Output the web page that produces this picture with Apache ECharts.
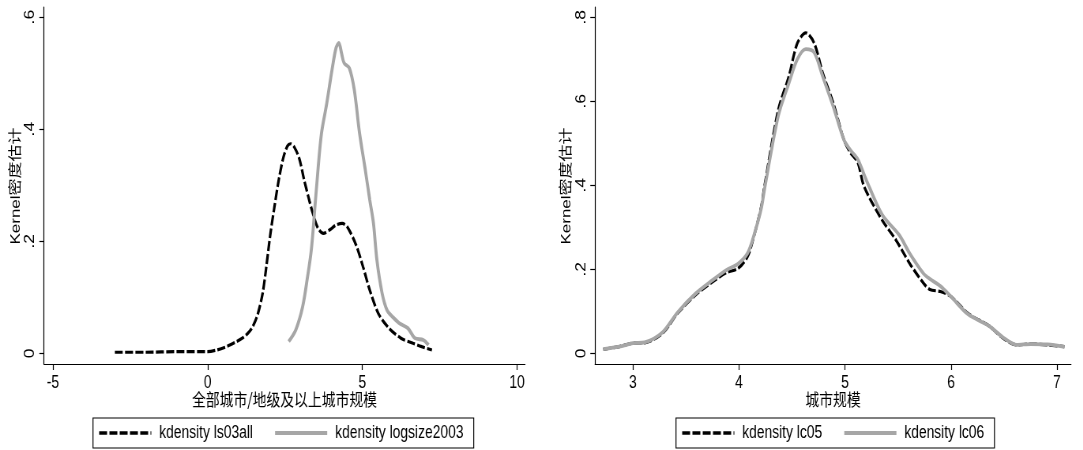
<!DOCTYPE html>
<html>
<head>
<meta charset="utf-8">
<script src="https://cdn.jsdelivr.net/npm/echarts@6/dist/echarts.min.js"></script>
<style>
html,body{margin:0;padding:0;background:#fff;overflow:hidden;}
#wrap{width:1083px;height:450px;overflow:hidden;}
#chart{width:1371px;height:450px;transform:scaleX(0.79);transform-origin:0 0;}
</style>
</head>
<body>
<div id="wrap"><div id="chart"></div></div>
<script>
// ---- data (x, density) ----
const ls03all = [[-3.0,0.002],[-2.0,0.002],[-1.0,0.003],[0.0,0.003],[0.3,0.006],[0.61,0.012],[0.9,0.02],[1.12,0.027],[1.3,0.036],[1.45,0.047],[1.62,0.07],[1.78,0.108],[1.89,0.152],[2.02,0.21],[2.16,0.262],[2.3,0.31],[2.45,0.35],[2.58,0.37],[2.68,0.374],[2.8,0.368],[2.96,0.348],[3.12,0.309],[3.29,0.272],[3.4,0.25],[3.56,0.224],[3.74,0.214],[3.96,0.221],[4.15,0.229],[4.35,0.232],[4.52,0.225],[4.8,0.193],[5.02,0.155],[5.24,0.113],[5.52,0.071],[5.86,0.045],[6.25,0.027],[6.64,0.018],[6.92,0.012],[7.25,0.006]];
const logsize2003 = [[2.62,0.021],[2.85,0.042],[3.07,0.083],[3.23,0.137],[3.35,0.184],[3.46,0.256],[3.57,0.33],[3.68,0.393],[3.85,0.446],[4.02,0.506],[4.15,0.545],[4.24,0.554],[4.33,0.535],[4.41,0.518],[4.58,0.509],[4.74,0.47],[4.91,0.393],[5.08,0.333],[5.24,0.274],[5.36,0.232],[5.47,0.167],[5.64,0.107],[5.8,0.077],[6.0,0.064],[6.19,0.054],[6.47,0.045],[6.7,0.027],[6.97,0.024],[7.14,0.015]];
const lc05 = [[2.72,0.0095],[2.87,0.016],[3.0,0.024],[3.11,0.025],[3.28,0.048],[3.42,0.095],[3.59,0.139],[3.75,0.17],[3.88,0.192],[3.99,0.202],[4.08,0.23],[4.14,0.278],[4.21,0.349],[4.24,0.397],[4.37,0.579],[4.47,0.659],[4.55,0.738],[4.63,0.763],[4.71,0.738],[4.79,0.667],[4.89,0.595],[4.99,0.508],[5.05,0.478],[5.12,0.455],[5.18,0.397],[5.35,0.317],[5.48,0.27],[5.61,0.214],[5.74,0.167],[5.8,0.152],[5.9,0.147],[6.0,0.135],[6.16,0.095],[6.36,0.065],[6.49,0.036],[6.62,0.02],[6.75,0.022],[6.91,0.02],[7.07,0.016]];
const lc06 = [[2.72,0.01],[2.87,0.016],[3.0,0.024],[3.11,0.026],[3.28,0.05],[3.42,0.097],[3.59,0.142],[3.75,0.174],[3.88,0.198],[3.99,0.213],[4.08,0.238],[4.14,0.28],[4.21,0.345],[4.24,0.39],[4.37,0.565],[4.47,0.643],[4.55,0.7],[4.63,0.724],[4.71,0.716],[4.79,0.659],[4.89,0.587],[4.99,0.508],[5.05,0.484],[5.12,0.462],[5.2,0.413],[5.35,0.33],[5.51,0.282],[5.61,0.238],[5.74,0.19],[5.8,0.177],[5.9,0.16],[6.0,0.135],[6.16,0.093],[6.36,0.065],[6.49,0.038],[6.62,0.02],[6.75,0.022],[6.91,0.021],[7.07,0.015]];

const xTicksLeft = [-5, 0, 5, 10];
const yTicksLeft = [0, 0.2, 0.4, 0.6];
const xTicksRight = [3, 4, 5, 6, 7];
const yTicksRight = [0, 0.2, 0.4, 0.6, 0.8];
const names = ['kdensity ls03all', 'kdensity logsize2003', 'kdensity lc05', 'kdensity lc06'];
const xTitleLeft = '全部城市/地级及以上城市规模';
const xTitleRight = '城市规模';
const yTitle = 'Kernel密度估计';

const REG = '"Liberation Sans", Arial, "Noto Sans CJK SC", sans-serif';
const CJK = '"Noto Sans CJK SC", "Liberation Sans", sans-serif';
const fmtY = v => v === 0 ? '0' : String(+v.toFixed(1)).replace(/^0\./, '.');

function xAxis(idx, min, max, ticks, title) {
  return {
    type: 'value', gridIndex: idx, min: min, max: max,
    axisLine: { show: true, onZero: false, lineStyle: { color: '#000', width: 1.2 } },
    axisTick: { show: true, length: 6, customValues: ticks, lineStyle: { color: '#000', width: 1.2 } },
    axisLabel: { customValues: ticks, color: '#000', fontFamily: REG, fontSize: 17.5, margin: 10.5,
                 formatter: v => String(v) },
    splitLine: { show: false },
    name: title, nameLocation: 'middle', nameGap: 27, nameMoveOverlap: false,
    nameTextStyle: { color: '#000', fontFamily: CJK, fontSize: 17.5 }
  };
}
function yAxis(idx, min, max, ticks) {
  return {
    type: 'value', gridIndex: idx, min: min, max: max,
    axisLine: { show: true, onZero: false, lineStyle: { color: '#000', width: 1.2 } },
    axisTick: { show: true, length: 6, customValues: ticks, lineStyle: { color: '#000', width: 1.2 } },
    axisLabel: { show: false },
    splitLine: { show: false }
  };
}
function vText(text, cx, cy, font) {
  return {
    type: 'text', x: cx, y: cy, rotation: Math.PI / 2, silent: true,
    style: { text: text, fill: '#000', font: font, align: 'center', verticalAlign: 'middle' }
  };
}
const blackStyle = { color: '#000', width: 3.2, type: [10, 3], cap: 'butt' };
const grayStyle = { color: '#a6a6a6', width: 3.8, type: 'solid' };
function legend(left, data) {
  return {
    left: left, top: 418, orient: 'horizontal',
    data: [
      { name: data[0], lineStyle: { color: '#000', width: 3.6, type: [10, 3], cap: 'butt' } },
      { name: data[1], lineStyle: { color: '#a6a6a6', width: 4, type: 'solid' } }
    ],
    borderColor: '#000', borderWidth: 1.2, padding: [5, 13, 5, 6],
    itemWidth: 66, itemHeight: 14, itemGap: 26,
    itemStyle: { opacity: 0 },
    textStyle: { color: '#000', fontFamily: REG, fontSize: 17.5, lineHeight: 20, padding: [0, 0, 0, 5] }
  };
}

const chart = echarts.init(document.getElementById('chart'), null, { renderer: 'canvas' });
chart.setOption({
  animation: false,
  backgroundColor: '#fff',
  grid: [
    { left: 55.7, right: 706.4, top: 7, bottom: 86 },
    { left: 753.2, right: 15.3, top: 7, bottom: 86 }
  ],
  xAxis: [ xAxis(0, -5.29, 10.26, xTicksLeft, xTitleLeft), xAxis(1, 2.642, 7.132, xTicksRight, xTitleRight) ],
  yAxis: [ yAxis(0, -0.019, 0.618, yTicksLeft), yAxis(1, -0.0255, 0.8245, yTicksRight) ],
  legend: [ legend(117.7, [names[0], names[1]]), legend(855.7, [names[2], names[3]]) ],
  series: [
    { name: names[0], type: 'line', xAxisIndex: 0, yAxisIndex: 0, data: ls03all, showSymbol: false, symbol: 'none', smooth: 0.3, lineStyle: blackStyle, itemStyle: { color: '#000' } },
    { name: names[1], type: 'line', xAxisIndex: 0, yAxisIndex: 0, data: logsize2003, showSymbol: false, symbol: 'none', smooth: 0.3, lineStyle: grayStyle, itemStyle: { color: '#a6a6a6' } },
    { name: names[2], type: 'line', xAxisIndex: 1, yAxisIndex: 1, data: lc05, showSymbol: false, symbol: 'none', smooth: 0.3, lineStyle: blackStyle, itemStyle: { color: '#000' } },
    { name: names[3], type: 'line', xAxisIndex: 1, yAxisIndex: 1, data: lc06, showSymbol: false, symbol: 'none', smooth: 0.3, lineStyle: grayStyle, itemStyle: { color: '#a6a6a6' } }
  ]
});

// rotated y tick labels and y titles, placed through the axes' own scales
const labelFont = '17.5px "Liberation Sans", Arial, sans-serif';
const titleFont = '17px "Liberation Sans", Arial, "Noto Sans CJK SC", sans-serif';
const graphics = [];
[[0, yTicksLeft], [1, yTicksRight]].forEach(([i, ticks]) => {
  const ax = chart.convertToPixel({ xAxisIndex: i }, i === 0 ? -5.29 : 2.642);
  ticks.forEach(v => {
    const py = chart.convertToPixel({ yAxisIndex: i }, v);
    graphics.push(vText(fmtY(v), ax - 17.5, py, labelFont));
  });
  graphics.push(vText(yTitle, ax - 35.5, 186, titleFont));
});
chart.setOption({ graphic: graphics });
</script>
</body>
</html>
